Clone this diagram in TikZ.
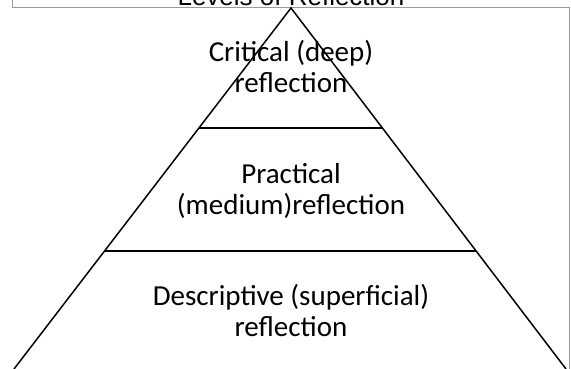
\documentclass[tikz,border=0pt]{standalone}
\usepackage{fontspec}
\setmainfont{Carlito}
\newfontfamily\titlefont{Liberation Sans}
\usetikzlibrary{calc}
\begin{document}
\begin{tikzpicture}[x=1pt,y=1pt,
  levelline/.style={draw=black,line width=1.5pt},
  frameline/.style={draw=gray!80,line width=0.9pt},
  leveltext/.style={align=center,font=\fontsize{29}{31}\selectfont,anchor=base,inner sep=0pt},
  titletext/.style={font=\titlefont\fontsize{26}{30}\selectfont,anchor=base,inner sep=0pt}]
\useasboundingbox (0,0) rectangle (571,369);
\clip (0,0) rectangle (571,369);
\fill[white] (0,0) rectangle (571,369);
% frame
\draw[frameline] (12,400) -- (12,362) -- (569,362) -- (569,-20);
\node[titletext] (title) at (291,363) {Levels of Reflection};
% pyramid
\coordinate (apex) at (291,361);
\coordinate (bl) at (14,0);
\coordinate (br) at (566,0);
\coordinate (l1) at ($(apex)!{120/361}!(bl)$);
\coordinate (r1) at ($(apex)!{120/361}!(br)$);
\coordinate (l2) at ($(apex)!{243/361}!(bl)$);
\coordinate (r2) at ($(apex)!{243/361}!(br)$);
\draw[levelline] (bl) -- (apex) -- (br);
\draw[levelline] (l1) -- (r1);
\draw[levelline] (l2) -- (r2);
\node[leveltext] (critical) at (291,276) {Critical (deep)\\reflection};
\node[leveltext] (practical) at (291,154) {Practical\\(medium)reflection};
\node[leveltext] (descriptive) at (291,32) {Descriptive (superficial)\\reflection};
\end{tikzpicture}
\end{document}
